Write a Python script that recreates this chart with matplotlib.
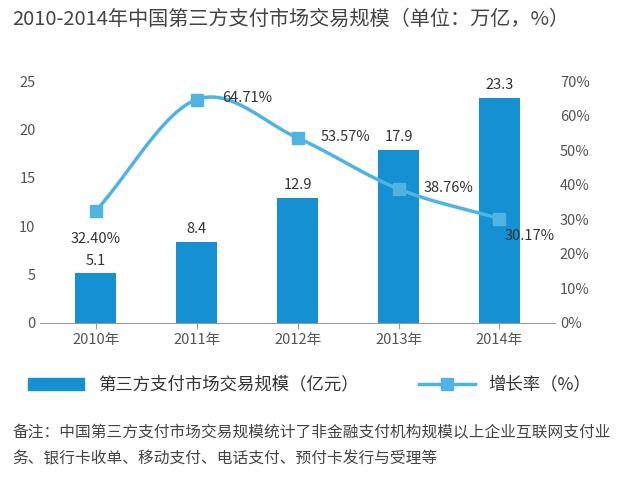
import numpy as np
import matplotlib
matplotlib.use("Agg")
import matplotlib.pyplot as plt
from matplotlib.lines import Line2D
from matplotlib.patches import Patch

plt.rcParams['font.family'] = ['Noto Sans CJK SC', 'DejaVu Sans']

years = ["2010年", "2011年", "2012年", "2013年", "2014年"]
scale = [5.1, 8.4, 12.9, 17.9, 23.3]
growth = [32.40, 64.71, 53.57, 38.76, 30.17]

BAR = "#1590d2"
LINE = "#4fb3e3"
GREY = "#555555"

fig = plt.figure(figsize=(6.2, 4.78), dpi=100)
ax = fig.add_axes([0.065, 0.325, 0.83, 0.505])
x = np.arange(len(years))
ax.bar(x, scale, width=0.41, color=BAR, zorder=2)
for xi, v in zip(x, scale):
    ax.text(xi, v + 0.6, f"{v:g}", ha="center", va="bottom", fontsize=10.5, color="#333333")
ax.set_ylim(0, 25)
ax.set_xlim(-0.55, 4.55)
ax.set_yticks(range(0, 26, 5))
ax.set_xticks(x)
ax.set_xticklabels(years)
for s in ["top", "right", "left"]:
    ax.spines[s].set_visible(False)
ax.spines["bottom"].set_color("#999999")
ax.tick_params(axis="y", length=0, labelsize=10.5, colors=GREY)
ax.tick_params(axis="x", length=4, labelsize=10.5, colors=GREY, color="#999999")

ax2 = ax.twinx()
ax2.set_ylim(0, 70)
ax2.set_yticks(range(0, 71, 10))
ax2.set_yticklabels([f"{t}%" for t in range(0, 71, 10)])
for s in ["top", "right", "left", "bottom"]:
    ax2.spines[s].set_visible(False)
ax2.tick_params(axis="y", length=0, labelsize=10.5, colors=GREY)

# smooth curve through the points (Catmull-Rom, drawing only)
g = np.array(growth)
px = np.concatenate([[x[0] - 1], x, [x[-1] + 1]]).astype(float)
py = np.concatenate([[2 * g[0] - g[1]], g, [2 * g[-1] - g[-2]]])
cx, cy = [], []
for i in range(1, len(px) - 2):
    t = np.linspace(0, 1, 30)
    for arr, out in ((px, cx), (py, cy)):
        p0, p1, p2, p3 = arr[i - 1], arr[i], arr[i + 1], arr[i + 2]
        out.extend(0.5 * (2 * p1 + (-p0 + p2) * t + (2 * p0 - 5 * p1 + 4 * p2 - p3) * t**2
                          + (-p0 + 3 * p1 - 3 * p2 + p3) * t**3))
ax2.plot(cx, cy, color=LINE, lw=2.5, zorder=3)
ax2.plot(x, g, "s", color=LINE, ms=9, zorder=4)
offs = [(0, -6, "top"), (1.0, 0.3, "center"), (0.95, 0.3, "center"), (1.0, 0.3, "center"), (0.6, -3, "top")]
for xi, v, (dx, dy, va) in zip(x, g, offs):
    ax2.text(xi + dx * 0.5, v + dy, f"{v:.2f}%", ha="center", va=va,
             fontsize=10.5, color="#333333")

fig.text(0.02, 0.96, "2010-2014年中国第三方支付市场交易规模（单位：万亿，%）", fontsize=14.5,
         color="#444444", va="center")

handles = [Patch(color=BAR), Line2D([], [], color=LINE, lw=2.5, marker="s", ms=9)]
fig.legend(handles, ["第三方支付市场交易规模（亿元）", "增长率（%）"], loc="center",
           bbox_to_anchor=(0.5, 0.195), ncol=2, frameon=False, fontsize=12.5, handlelength=3.2,
           columnspacing=3.5, labelcolor="#333333")

fig.text(0.02, 0.095, "备注：中国第三方支付市场交易规模统计了非金融支付机构规模以上企业互联网支付业",
         fontsize=11.3, color="#444444", va="center")
fig.text(0.02, 0.04, "务、银行卡收单、移动支付、电话支付、预付卡发行与受理等",
         fontsize=11.3, color="#444444", va="center")

fig.savefig("out.png", dpi=100)
